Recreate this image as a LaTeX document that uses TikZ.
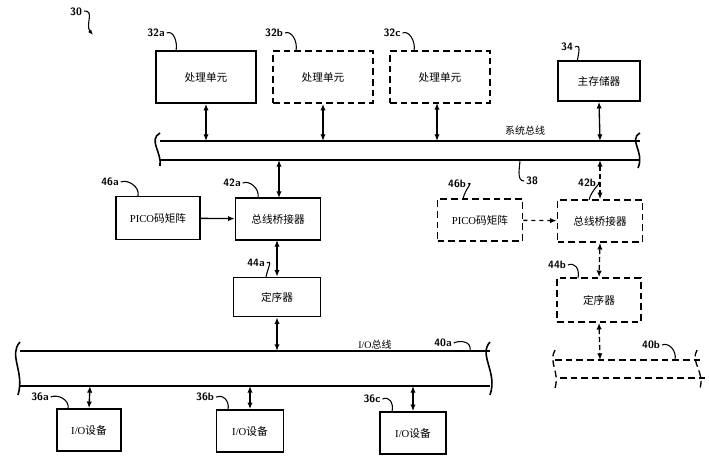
\documentclass[tikz,border=0pt]{standalone}
\usepackage{fontspec}
\newfontfamily\cjk{Noto Sans CJK SC}
\setmainfont{Liberation Serif}
\usetikzlibrary{arrows.meta}
\begin{document}
\begin{tikzpicture}[x=0.75pt,y=-0.75pt,line width=1.2pt,
 box/.style={draw,rectangle,inner sep=0pt,font=\cjk\fontsize{8}{9}\selectfont},
 dbox/.style={box,dashed,dash pattern=on 5pt off 3pt},
 arr/.style={{Latex[length=5pt,width=4pt]}-{Latex[length=5pt,width=4pt]},line width=1pt},
 lab/.style={font=\sffamily\bfseries\fontsize{8}{9}\selectfont,inner sep=1pt},
 curl/.style={line width=0.8pt}]
\useasboundingbox (0,0) rectangle (709,470);
% boxes
\node[box,minimum width=100*0.75pt,minimum height=52*0.75pt] (p1) at (206,77) {处理单元};
\node[dbox,minimum width=100*0.75pt,minimum height=52*0.75pt] (p2) at (323,77) {处理单元};
\node[dbox,minimum width=100*0.75pt,minimum height=52*0.75pt] (p3) at (440,77) {处理单元};
\node[box,minimum width=82*0.75pt,minimum height=40*0.75pt] (mem) at (599,81) {主存储器};
\node[box,minimum width=84*0.75pt,minimum height=43*0.75pt] (pa) at (158,218) {\fontspec{Liberation Serif}PICO\cjk 码矩阵};
\node[box,minimum width=85*0.75pt,minimum height=42*0.75pt] (ba) at (278,219) {总线桥接器};
\node[box,minimum width=87*0.75pt,minimum height=39*0.75pt] (sa) at (277,297) {定序器};
\node[dbox,minimum width=85*0.75pt,minimum height=42*0.75pt] (pb) at (480,220) {\fontspec{Liberation Serif}PICO\cjk 码矩阵};
\node[dbox,minimum width=85*0.75pt,minimum height=42*0.75pt] (bb) at (600,221) {总线桥接器};
\node[dbox,minimum width=84*0.75pt,minimum height=44*0.75pt] (sb) at (599,300) {定序器};
\node[box,minimum width=64*0.75pt,minimum height=42*0.75pt] (d1) at (89,430) {\fontspec{Liberation Serif}I/O\cjk 设备};
\node[box,minimum width=67*0.75pt,minimum height=42*0.75pt] (d2) at (250,431) {\fontspec{Liberation Serif}I/O\cjk 设备};
\node[box,minimum width=66*0.75pt,minimum height=42*0.75pt] (d3) at (413,433) {\fontspec{Liberation Serif}I/O\cjk 设备};
% system bus
\coordinate (sbL) at (160,141); \coordinate (sbR) at (640,141);
\draw (160,141) -- (640,141); \draw (160,160) -- (640,160);
\draw (160,133) .. controls (148,140) and (162,152) .. (160,166);
\draw (640,133) .. controls (628,140) and (645,152) .. (638,168);
\node[font=\cjk\fontsize{7.5}{8}\selectfont] at (525,131) {系统总线};
% I/O bus a
\draw (20,351) -- (490,351); \draw (20,386) -- (490,386);
\draw (20,342) .. controls (8,355) and (25,372) .. (18,395);
\draw (490,342) .. controls (478,355) and (498,372) .. (490,395);
\node[font=\fontsize{7.5}{8}\selectfont] at (375,345) {I/O{\cjk 总线}};
% I/O bus b dashed
\begin{scope}[dashed,dash pattern=on 5pt off 3pt,line width=1pt]
\draw (555,360) -- (700,360); \draw (560,378) -- (705,378);
\draw (555,350) .. controls (548,362) and (560,372) .. (555,388);
\draw (697,350) .. controls (690,362) and (705,372) .. (700,388);
\end{scope}
% connectors
\coordinate (b1) at (206,141); \coordinate (b2) at (323,141); \coordinate (b3) at (437,141); \coordinate (b4) at (600,141);
\draw[arr] (p1.south) -- (b1);
\draw[arr] (p2.south) -- (b2);
\draw[arr] (437,103) -- (b3);
\draw[arr] (mem.south) -- (b4);
\coordinate (c1) at (279,160); \coordinate (c2) at (600,160);
\draw[arr] (c1) -- (279,198);
\draw[arr,dash pattern=on 4pt off 2pt] (c2) -- (bb.north);
\draw[-{Latex[length=5pt,width=4pt]},line width=1pt] (pa) -- (ba);
\draw[-{Latex[length=5pt,width=4pt]},line width=1pt,dashed] (pb) -- (bb);
\draw[arr] (277,240) -- (sa.north);
\draw[arr,dash pattern=on 4pt off 2pt] (bb.south) -- (sb.north);
\coordinate (ia) at (277,351); \coordinate (ib) at (600,360);
\draw[arr] (sa.south) -- (ia);
\draw[arr,dash pattern=on 4pt off 2pt] (sb.south) -- (ib);
\draw[arr] (90,386) -- (d1.north);
\draw[arr] (250,386) -- (d2.north);
\draw[arr] (413,386) -- (d3.north);
% labels with curls
\node[lab] at (76,12) {30};
\draw[curl,-{Latex[length=4pt]}] (84,11) .. controls (95,10) and (85,25) .. (93,35);
\foreach \t/\x/\y/\ex/\ey in {32a/156/33/176/51, 32b/274/33/296/51, 32c/392/33/414/51, 34/567/47/577/62, 46a/110/182/138/196, 42a/232/183/258/198, 46b/457/184/463/199, 42b/587/183/589/200, 44a/256/263/266/277, 44b/557/265/578/278, 36a/40/397/68/409, 36b/205/397/228/410, 36c/372/399/392/412, 40a/443/343/470/351, 40b/651/345/675/360}{
 \node[lab] (L\t) at (\x,\y) {\t};
 \draw[curl] (L\t.east) .. controls +(6,-3) and +(2,-10) .. (\ex,\ey);
}
\node[lab] (L38) at (532,181) {38};
\draw[curl] (L38.west) .. controls +(-8,0) and +(0,6) .. (520,160);
\end{tikzpicture}
\end{document}
